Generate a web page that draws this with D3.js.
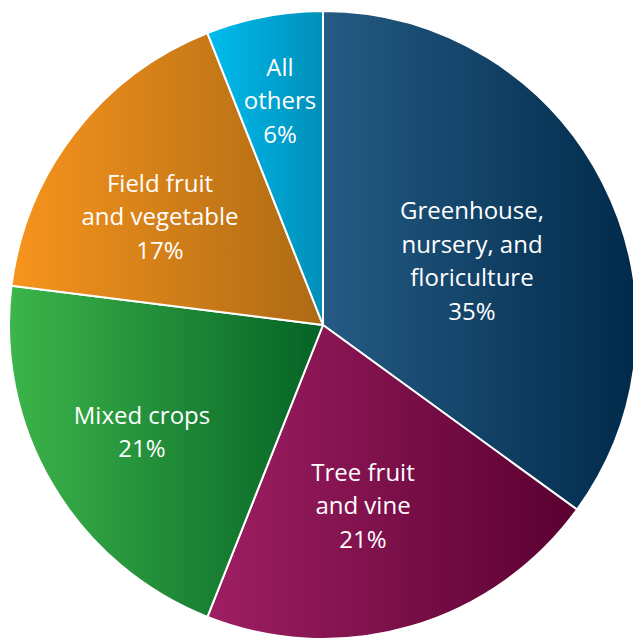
<!DOCTYPE html>
<html>
<head>
<meta charset="utf-8">
<script src="https://cdn.jsdelivr.net/npm/d3@7"></script>
<style>
  html, body { margin: 0; padding: 0; background: #fff; }
  svg { display: block; }
</style>
</head>
<body>
<svg id="chart" width="633" height="641"></svg>
<script>
// ---- data ----
const categories = ["Greenhouse, nursery, and floriculture", "Tree fruit and vine", "Mixed crops", "Field fruit and vegetable", "All others"];
const labelLines = [
  ["Greenhouse,", "nursery, and", "floriculture"],
  ["Tree fruit", "and vine"],
  ["Mixed crops"],
  ["Field fruit", "and vegetable"],
  ["All", "others"]
];
const shares = [35, 21, 21, 17, 6];

// ---- styling / layout ----
const colorsLeft  = ["#255b84", "#9e1f63", "#3db54a", "#f7941d", "#00bcef"];
const colorsRight = ["#002a4a", "#5a0030", "#056326", "#ad6a14", "#008fb8"];
// label block centres, relative to pie centre (layout only)
const labelDX = [149, 40, -181, -163, -43];
const labelDY = [-64, 181, 107, -108, -224];

const cx = 323, cy = 325, R = 314;

const svg = d3.select("#chart");
const defs = svg.append("defs");

const pie = d3.pie().sort(null).value(d => d)(shares);
const arc = d3.arc().innerRadius(0).outerRadius(R);

pie.forEach((p, i) => {
  const g = defs.append("linearGradient")
    .attr("id", "grad" + i)
    .attr("x1", "0%").attr("y1", "0%").attr("x2", "100%").attr("y2", "0%");
  g.append("stop").attr("offset", "0%").attr("stop-color", colorsLeft[i]);
  g.append("stop").attr("offset", "100%").attr("stop-color", colorsRight[i]);
});

const g = svg.append("g").attr("transform", `translate(${cx},${cy})`);

g.selectAll("path.slice")
  .data(pie)
  .join("path")
  .attr("class", "slice")
  .attr("d", arc)
  .attr("fill", (d, i) => `url(#grad${i})`)
  .attr("stroke", "#fff")
  .attr("stroke-width", 2)
  .attr("stroke-linejoin", "round");

const fontSize = 24;
const lineH = 33.5;

pie.forEach((p, i) => {
  const x = labelDX[i];
  const y = labelDY[i];
  const lines = labelLines[i].concat([shares[i] + "%"]);
  const n = lines.length;
  const t = g.append("text")
    .attr("text-anchor", "middle")
    .attr("font-family", "'Open Sans', 'Noto Sans', sans-serif")
    .attr("font-size", fontSize)
    .attr("fill", "#fff");
  lines.forEach((ln, k) => {
    t.append("tspan")
      .attr("x", x)
      .attr("y", y + (k - (n - 1) / 2) * lineH)
      .attr("dy", "0.35em")
      .text(ln);
  });
});
</script>
</body>
</html>
